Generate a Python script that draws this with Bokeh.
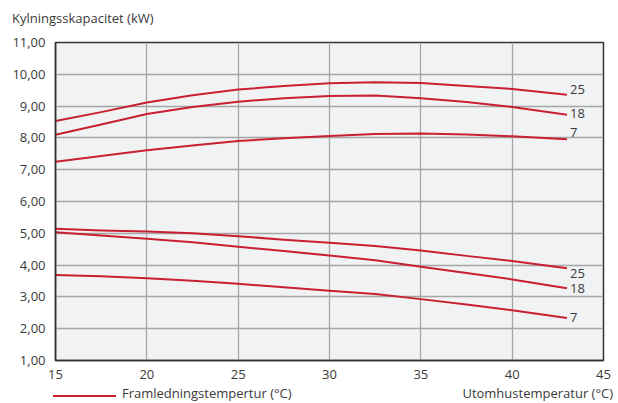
from bokeh.plotting import figure
from bokeh.models import Range1d, FixedTicker, ColumnDataSource, CustomJSTickFormatter, Div
from bokeh.layouts import column
from bokeh.core.properties import value
from bokeh.embed import file_html
from bokeh.resources import INLINE

temps = [15, 17.5, 20, 22.5, 25, 27.5, 30, 32.5, 35, 37.5, 40, 43]
upper_25 = [8.53, 8.81, 9.11, 9.34, 9.52, 9.63, 9.72, 9.75, 9.73, 9.63, 9.54, 9.36]
upper_18 = [8.10, 8.42, 8.75, 8.97, 9.14, 9.25, 9.32, 9.33, 9.25, 9.13, 8.97, 8.73]
upper_7 = [7.25, 7.43, 7.61, 7.76, 7.90, 7.99, 8.06, 8.12, 8.14, 8.11, 8.05, 7.96]
lower_25 = [5.14, 5.09, 5.06, 5.00, 4.91, 4.80, 4.70, 4.60, 4.46, 4.29, 4.13, 3.90]
lower_18 = [5.03, 4.93, 4.83, 4.72, 4.58, 4.44, 4.30, 4.15, 3.95, 3.75, 3.55, 3.27]
lower_7 = [3.69, 3.65, 3.59, 3.51, 3.41, 3.30, 3.19, 3.09, 2.93, 2.76, 2.58, 2.34]
series = [upper_25, upper_18, upper_7, lower_25, lower_18, lower_7]
series_labels = ["25", "18", "7", "25", "18", "7"]
label_dy = [-5, -1, -7, 5, 0, 0]
x_ticks = [15, 20, 25, 30, 35, 40, 45]
y_ticks = [1, 2, 3, 4, 5, 6, 7, 8, 9, 10, 11]
y_title = "Kylningsskapacitet (kW)"
x_title = "Utomhustemperatur (°C)"
legend_title = "Framledningstempertur (°C)"

RED = "#c8202f"
FONT = "Open Sans"
TXT = "#3a3a3a"
FS = "13px"

# top row: y-axis title
top = Div(width=618, height=30, margin=0, text=(
    f'<div style="position:relative;width:618px;height:30px;font-family:\'{FONT}\';'
    f'font-size:{FS};color:{TXT};line-height:16px;">'
    f'<span style="position:absolute;left:12px;top:10px;white-space:nowrap;">{y_title}</span>'
    '</div>'))

p = figure(width=618, height=352, output_backend="svg", toolbar_location=None,
           x_range=Range1d(15, 45), y_range=Range1d(1, 11),
           min_border_left=55, min_border_right=15, min_border_top=12, min_border_bottom=22)
p.background_fill_color = "#f1f2f4"
p.border_fill_color = "white"
p.outline_line_color = "#333333"
p.outline_line_width = 1.5

for ax in (p.xaxis, p.yaxis):
    ax.major_tick_line_color = None
    ax.minor_tick_line_color = None
    ax.axis_line_color = "#333333"
    ax.axis_line_width = 1.5
    ax.major_label_text_font = FONT
    ax.major_label_text_font_size = FS
    ax.major_label_text_color = TXT
p.xaxis.ticker = FixedTicker(ticks=x_ticks)
p.yaxis.ticker = FixedTicker(ticks=y_ticks)
p.yaxis.formatter = CustomJSTickFormatter(code="return tick.toFixed(2).replace('.', ',');")
p.xaxis.major_label_standoff = 3
p.yaxis.major_label_standoff = 4

p.xgrid.ticker = FixedTicker(ticks=x_ticks)
p.ygrid.ticker = FixedTicker(ticks=y_ticks)
for g in (p.xgrid, p.ygrid):
    g.grid_line_color = "#a5a5a5"
    g.grid_line_width = 1.3

for ys in series:
    p.line(temps, ys, line_color=RED, line_width=2, line_join="round")

src = ColumnDataSource(dict(x=[temps[-1]] * len(series), y=[s[-1] for s in series],
                            t=series_labels, dy=label_dy))
p.text(x="x", y="y", text="t", source=src, x_offset=3, y_offset="dy",
       text_font=value(FONT), text_font_size=FS, text_color=TXT,
       text_baseline="middle", text_align="left")

# bottom row: legend key and x-axis title
bottom = Div(width=618, height=21, margin=0, text=(
    f'<div style="position:relative;width:618px;height:21px;font-family:\'{FONT}\';'
    f'font-size:{FS};color:{TXT};line-height:16px;">'
    f'<div style="position:absolute;left:53px;top:13px;width:63px;height:0;'
    f'border-top:2px solid {RED};"></div>'
    f'<span style="position:absolute;left:122px;top:3px;white-space:nowrap;">{legend_title}</span>'
    f'<span style="position:absolute;right:5px;top:3px;white-space:nowrap;">{x_title}</span>'
    '</div>'))

layout = column(top, p, bottom, spacing=0)
html = file_html(layout, INLINE)
open("out.html", "w").write(html)
